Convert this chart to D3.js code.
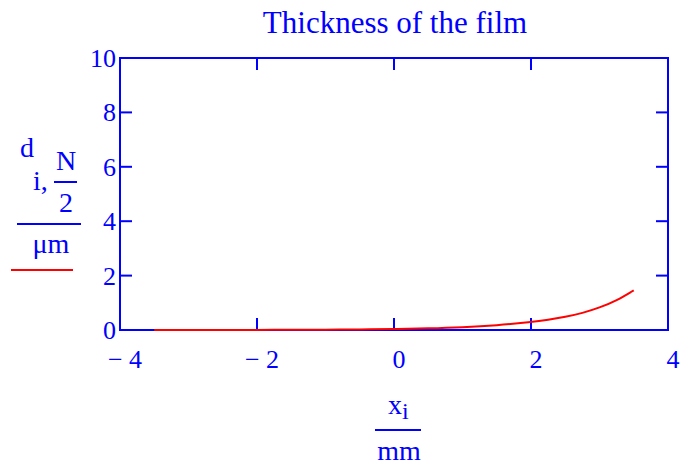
<!DOCTYPE html>
<html><head><meta charset="utf-8">
<script src="https://cdn.jsdelivr.net/npm/d3@7"></script>
<style>body{margin:0;background:#fff}svg{display:block}text{font-family:"Liberation Serif","Times New Roman",serif;fill:#0000ff}</style>
</head><body><div id="c"></div>
<script>
const xTicks = [-4, -2, 0, 2, 4];
const yTicks = [0, 2, 4, 6, 8, 10];
const xLabels = ["\u2212 4", "\u2212 2", "0", "2", "4"];
const xs = [-3.5, -3, -2.5, -2, -1.5, -1, -0.5, 0, 0.5, 1, 1.5, 2, 2.25, 2.5, 2.75, 3, 3.25, 3.5];
const ds = [0.001, 0.002, 0.003, 0.004, 0.007, 0.012, 0.02, 0.035, 0.06, 0.1, 0.17, 0.29, 0.37, 0.48, 0.62, 0.82, 1.08, 1.46];

const W = 683, H = 465;
const svg = d3.select("#c").append("svg").attr("width", W).attr("height", H);
const x = d3.scaleLinear().domain([-4, 4]).range([120, 668]);
const y = d3.scaleLinear().domain([0, 10]).range([330, 58]);
const blue = "#0000ff";

svg.append("rect").attr("x", 120).attr("y", 58).attr("width", 548).attr("height", 272)
  .attr("fill", "none").attr("stroke", blue).attr("stroke-width", 2);
const tl = 12;
xTicks.slice(1, -1).forEach(t => {
  svg.append("line").attr("x1", x(t)).attr("x2", x(t)).attr("y1", 330).attr("y2", 330 - tl).attr("stroke", blue).attr("stroke-width", 2);
  svg.append("line").attr("x1", x(t)).attr("x2", x(t)).attr("y1", 58).attr("y2", 58 + tl).attr("stroke", blue).attr("stroke-width", 2);
});
yTicks.slice(1, -1).forEach(t => {
  svg.append("line").attr("x1", 120).attr("x2", 120 + tl).attr("y1", y(t)).attr("y2", y(t)).attr("stroke", blue).attr("stroke-width", 2);
  svg.append("line").attr("x1", 668).attr("x2", 668 - tl).attr("y1", y(t)).attr("y2", y(t)).attr("stroke", blue).attr("stroke-width", 2);
});
xTicks.forEach((t, i) => {
  svg.append("text").attr("x", x(t) + 5).attr("y", 368).attr("text-anchor", "middle")
    .attr("font-size", 26).text(xLabels[i]);
});
yTicks.forEach(t => {
  svg.append("text").attr("x", 116).attr("y", y(t) + 9).attr("text-anchor", "end")
    .attr("font-size", 26).text(t);
});
svg.append("path").datum(xs.map((v, i) => [v, ds[i]]))
  .attr("d", d3.line().x(d => x(d[0])).y(d => y(d[1])).curve(d3.curveBasis))
  .attr("fill", "none").attr("stroke", "#ff0000").attr("stroke-width", 2);

svg.append("text").attr("x", 395).attr("y", 33).attr("text-anchor", "middle").attr("font-size", 31).text("Thickness of the film");

svg.append("text").attr("x", 20).attr("y", 157).attr("font-size", 28).text("d");
svg.append("text").attr("x", 33).attr("y", 190).attr("font-size", 28).text("i,");
svg.append("text").attr("x", 66).attr("y", 170).attr("text-anchor", "middle").attr("font-size", 28).text("N");
svg.append("line").attr("x1", 54).attr("x2", 77).attr("y1", 182).attr("y2", 182).attr("stroke", blue).attr("stroke-width", 2);
svg.append("text").attr("x", 66).attr("y", 212).attr("text-anchor", "middle").attr("font-size", 28).text("2");
svg.append("line").attr("x1", 17).attr("x2", 81).attr("y1", 224).attr("y2", 224).attr("stroke", blue).attr("stroke-width", 2);
svg.append("text").attr("x", 51).attr("y", 253).attr("text-anchor", "middle").attr("font-size", 28).text("\u03bcm");
svg.append("line").attr("x1", 11).attr("x2", 73).attr("y1", 270).attr("y2", 270).attr("stroke", "#ff0000").attr("stroke-width", 2);

const xl = svg.append("text").attr("x", 388).attr("y", 414).attr("font-size", 28);
xl.append("tspan").text("x");
xl.append("tspan").attr("dy", 5).attr("font-size", 24).text("i");
svg.append("line").attr("x1", 375).attr("x2", 421).attr("y1", 430).attr("y2", 430).attr("stroke", blue).attr("stroke-width", 2);
svg.append("text").attr("x", 399).attr("y", 460).attr("text-anchor", "middle").attr("font-size", 28).text("mm");
</script></body></html>
